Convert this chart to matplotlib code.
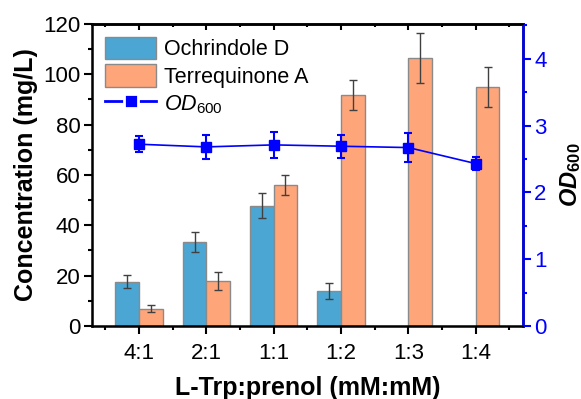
import numpy as np
import matplotlib
matplotlib.use("Agg")
import matplotlib.pyplot as plt
from matplotlib.lines import Line2D
from matplotlib.ticker import MultipleLocator

plt.rcParams["font.family"] = ["Liberation Sans", "DejaVu Sans"]
plt.rcParams["mathtext.fontset"] = "custom"
plt.rcParams["mathtext.it"] = "Liberation Sans:italic"
plt.rcParams["mathtext.bf"] = "Liberation Sans:bold"
plt.rcParams["mathtext.bfit"] = "Liberation Sans:bold:italic"
plt.rcParams["mathtext.rm"] = "Liberation Sans"

ratios = ["4:1", "2:1", "1:1", "1:2", "1:3", "1:4"]
ochrindole = [17.6, 33.5, 47.8, 13.9, 0, 0]
ochrindole_err = [2.6, 4.0, 5.0, 3.0, 0, 0]
terrequinone = [6.9, 17.9, 55.9, 91.8, 106.5, 95.0]
terrequinone_err = [1.4, 3.7, 4.0, 6.0, 10.0, 8.0]
od600 = [2.72, 2.68, 2.71, 2.69, 2.67, 2.43]
od600_err = [0.12, 0.18, 0.20, 0.17, 0.22, 0.10]

x = np.arange(len(ratios))
w = 0.35
blue = "#0000FF"

fig = plt.figure(figsize=(5.81, 3.99), dpi=100)
ax = fig.add_axes([0.158, 0.183, 0.742, 0.757])

# only draw the ochrindole bars that were measured
mask = np.array(ochrindole) > 0
b1 = ax.bar(x[mask] - w / 2, np.array(ochrindole)[mask], w, color="#4BA6D3",
            edgecolor="#8a8a8a", linewidth=1, zorder=2)
ax.errorbar(x[mask] - w / 2, np.array(ochrindole)[mask],
            yerr=np.array(ochrindole_err)[mask], fmt="none", ecolor="#404040",
            elinewidth=1, capsize=3, capthick=1, zorder=3)
b2 = ax.bar(x + w / 2, terrequinone, w, color="#FFA57A", edgecolor="#8a8a8a",
            linewidth=1, zorder=2)
ax.errorbar(x + w / 2, terrequinone, yerr=terrequinone_err, fmt="none",
            ecolor="#404040", elinewidth=1, capsize=3, capthick=1, zorder=3)

ax.set_xlim(-0.7, 5.7)
ax.set_ylim(0, 120)
ax.set_xticks(x)
ax.set_xticklabels(ratios)
ax.xaxis.set_minor_locator(MultipleLocator(0.5))
ax.yaxis.set_major_locator(MultipleLocator(20))
ax.yaxis.set_minor_locator(MultipleLocator(10))
ax.tick_params(axis="both", which="major", labelsize=16, length=6, width=1.5)
ax.tick_params(axis="both", which="minor", length=3, width=1.5)
ax.tick_params(axis="x", which="major", pad=6)
ax.tick_params(axis="y", which="major", pad=2)
for s in ax.spines.values():
    s.set_linewidth(1.8)
ax.set_ylabel("Concentration (mg/L)", fontsize=18, fontweight="bold", labelpad=4)
ax.set_xlabel("L-Trp:prenol (mM:mM)", fontsize=18, fontweight="bold", labelpad=9)

# inward ticks along the top edge
top = ax.secondary_xaxis("top")
top.set_xticks(x)
top.xaxis.set_minor_locator(MultipleLocator(0.5))
top.tick_params(axis="x", which="major", direction="in", length=4, width=1.5,
                labeltop=False)
top.tick_params(axis="x", which="minor", direction="in", length=2, width=1.5)
top.spines["top"].set_linewidth(1.8)

ax2 = ax.twinx()
ax2.errorbar(x, od600, yerr=od600_err, color=blue, marker="s",
             markersize=7.5, linewidth=1.2, elinewidth=1.5, capsize=3,
             capthick=1.5, zorder=4)
ax2.set_ylim(0, 4.52)
ax2.yaxis.set_major_locator(MultipleLocator(1))
ax2.yaxis.set_minor_locator(MultipleLocator(0.5))
ax2.tick_params(axis="y", which="major", labelsize=16, length=6, width=1.5,
                colors=blue, pad=2)
ax2.tick_params(axis="y", which="minor", length=3, width=1.5, colors=blue)
ax2.spines["right"].set_color(blue)
ax2.spines["right"].set_linewidth(1.8)
ax2.set_ylabel("$\\mathbfit{OD}_{\\mathbf{600}}$", fontsize=17, labelpad=8)

od_handle = Line2D([], [], color=blue, marker="s", markersize=9.5,
                   markeredgecolor="white", markeredgewidth=2, linewidth=2)
ax.legend([b1, b2, od_handle],
          ["Ochrindole D", "Terrequinone A", "$\\mathit{OD}_{600}$"],
          loc="upper left", frameon=False, fontsize=15.5, handlelength=2.4,
          handleheight=1.2, labelspacing=0.2, borderaxespad=0.3,
          borderpad=0.3, handletextpad=0.35)

fig.savefig("out.png", dpi=100)
